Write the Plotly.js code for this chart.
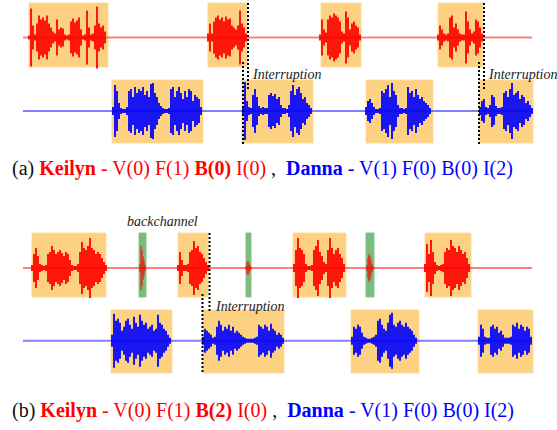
<!DOCTYPE html>
<html><head><meta charset="utf-8">
<script src="https://cdn.plot.ly/plotly-3.0.1.min.js"></script>
<style>html,body{margin:0;padding:0;background:#fff}#chart{width:557px;height:430px}</style>
</head><body><div id="chart"></div>
<script>
// ---------- timeline data (x = time units, rows by baseline) ----------
const rowBaselines = { aKeilyn: 37.5, aDanna: 111, bKeilyn: 268, bDanna: 340.7 };
const lineStart = 23, lineEnd = 532;

// Speech boxes (turn spans) per row
const aKeilynBoxes = [[29,108],[208,247],[321,361],[438,483]];
const aDannaBoxes  = [[112,203],[242,313],[366,433],[479,533]];
const bKeilynBoxes = [[32,106],[178,208],[293,346],[425,471]];
const bKeilynBackchannels = [[139,146],[246,251],[366,374]];
const bDannaBoxes  = [[111,172],[203,284],[351,419],[478,533]];
const rowBoxHeights = { aKeilyn: [3,67], aDanna: [80,143], bKeilyn: [233,297], bDanna: [310,373] };

// Waveform spans and amplitude envelopes
const aKeilynSpans = [[29,105],[208,246],[320,360],[438,482]];
const aKeilynAmps = [
  [2,29,12,3,14,22,18,20,17,22,14,10,6,4,18,8,10,9,3,2,3,16,19,15,17,20,8,2,3,27,10,3,4,12,31,14,10,12,6],
  [4,14,4,16,20,22,18,20,16,21,18,19,12,10,8,12,27,14,10,4],
  [3,18,8,5,18,22,20,24,22,20,16,6,4,26,20,8,14,16,12,10,3],
  [3,12,8,4,3,4,20,22,10,14,8,4,3,3,26,16,8,4,6,18,16,10,4]
];
const aDannaSpans = [[113,201],[243,311],[366,430],[480,532]];
const aDannaAmps = [
  [4,26,20,8,3,2,2,4,20,22,14,24,18,22,20,24,16,20,14,27,28,18,14,8,5,3,2,2,3,22,24,14,20,24,18,12,20,14,22,20,10,16,14,12,4],
  [4,29,10,4,3,16,22,14,5,3,4,3,3,16,18,15,17,12,14,6,3,3,2,6,20,26,16,22,24,18,12,14,8,6,3],
  [4,10,12,8,4,2,2,3,20,18,22,26,14,28,20,16,6,3,3,2,3,24,18,20,14,22,16,12,14,10,8,6,3],
  [4,10,12,4,3,6,16,14,5,3,3,4,18,20,14,22,28,16,18,20,12,16,14,8,10,6,3]
];
const bKeilynSpans = [[32,106],[140,145],[178,208],[246,251],[294,344],[367,373],[425,469]];
const bKeilynAmps = [
  [3,14,20,12,4,3,2,3,14,16,22,18,14,16,18,15,12,16,14,8,3,2,2,4,16,26,20,18,22,30,20,18,14,16,14,10,6,3],
  [4,22,18,12,8,3],
  [3,16,8,3,3,4,16,18,27,20,22,16,14,10,6,3],
  [2,6,7,5,3,1],
  [4,18,30,20,18,14,4,2,2,3,18,22,28,16,12,6,4,18,30,20,14,18,20,14,10,4],
  [3,10,14,12,8,4,2],
  [4,24,14,28,16,6,3,2,3,4,16,20,18,28,22,20,16,22,18,14,16,10,4]
];
const bDannaSpans = [[112,170],[203,283],[352,416],[479,531]];
const bDannaAmps = [
  [6,27,20,22,18,10,14,20,22,16,12,24,18,14,26,20,16,18,12,14,16,10,12,26,18,16,12,10,6,3],
  [4,12,10,8,6,3,4,14,20,16,10,14,12,16,10,14,8,10,8,6,4,3,2,2,2,2,3,4,16,14,12,16,14,10,17,12,10,6,8,6,3],
  [4,14,12,16,14,8,4,3,2,2,3,4,6,20,22,16,12,10,18,26,28,16,14,18,20,16,14,18,14,12,10,6,3],
  [4,16,12,4,3,3,14,16,12,14,8,10,6,3,3,3,4,16,14,18,12,16,14,10,14,12,4]
];

// Interruption markers: [x, yTop, yBottom]
const dottedMarkers = [[248,3,90],[243,62,145],[484,3,90],[479,62,146],[209.5,233,313],[202.5,294,373]];

// Text labels
const interruptionLabels = [[250,74],[485.5,74],[213,306]];
const backchannelLabel = [125,221.5];
const captionA = "(a) <span style='color:#f00'><b>Keilyn</b> - V(0) F(1) <b>B(0)</b> I(0)</span> ,&nbsp; <span style='color:#00f'><b>Danna</b> - V(1) F(0) B(0) I(2)</span>";
const captionB = "(b) <span style='color:#f00'><b>Keilyn</b> - V(0) F(1) <b>B(2)</b> I(0)</span> ,&nbsp; <span style='color:#00f'><b>Danna</b> - V(1) F(0) B(0) I(2)</span>";
const captionPos = [[9.5,168],[9.5,410]];

// ---------- build ----------
const traces = [];
const shapes = [];
const RED = '#ff0000', BLUE = '#0000ff';

function addBoxes(boxes, hy, color, line) {
  boxes.forEach(b => shapes.push({type:'rect', xref:'x', yref:'y', x0:b[0], x1:b[1], y0:hy[0], y1:hy[1],
    fillcolor: color, line:{color: line, width:1}, layer:'below'}));
}
addBoxes(aKeilynBoxes, rowBoxHeights.aKeilyn, '#fdd182', '#fddaa0');
addBoxes(aDannaBoxes, rowBoxHeights.aDanna, '#fdd182', '#fddaa0');
addBoxes(bKeilynBoxes, rowBoxHeights.bKeilyn, '#fdd182', '#fddaa0');
addBoxes(bDannaBoxes, rowBoxHeights.bDanna, '#fdd182', '#fddaa0');
addBoxes(bKeilynBackchannels, rowBoxHeights.bKeilyn, '#7bbb7b', '#86c286');

function addBaseline(y, color) {
  traces.push({type:'scatter', x:[lineStart,lineEnd], y:[y,y], mode:'lines', line:{color:color, width:2}, hoverinfo:'skip'});
}
addBaseline(rowBaselines.aKeilyn, 'rgba(255,0,0,0.5)');
addBaseline(rowBaselines.aDanna, 'rgba(0,0,255,0.5)');
addBaseline(rowBaselines.bKeilyn, 'rgba(255,0,0,0.5)');
addBaseline(rowBaselines.bDanna, 'rgba(0,0,255,0.5)');

// Each amplitude sample drawn as a symmetric vertical bar around the row baseline
function addWaves(spans, amps, base, color) {
  const xs = [], ys = [], bs = [], ws = [];
  spans.forEach((s, k) => {
    const a = amps[k], n = a.length, step = (s[1]-s[0])/(n-1);
    a.forEach((v, i) => {
      xs.push(s[0] + step*i); bs.push(base - v); ys.push(2*v); ws.push(step*0.9);
    });
  });
  traces.push({type:'bar', x:xs, y:ys, base:bs, width:ws, marker:{color:color, line:{width:0}}, hoverinfo:'skip'});
}
addWaves(aKeilynSpans, aKeilynAmps, rowBaselines.aKeilyn, RED);
addWaves(aDannaSpans, aDannaAmps, rowBaselines.aDanna, BLUE);
addWaves(bKeilynSpans, bKeilynAmps, rowBaselines.bKeilyn, RED);
addWaves(bDannaSpans, bDannaAmps, rowBaselines.bDanna, BLUE);

dottedMarkers.forEach(m => traces.push({type:'scatter', x:[m[0],m[0]], y:[m[1],m[2]], mode:'lines',
  line:{color:'#000', width:2, dash:'2px,2px'}, hoverinfo:'skip'}));

const serif = 'Liberation Serif, Times New Roman, serif';
const annotations = [];
interruptionLabels.forEach(p => annotations.push({x:p[0], y:p[1], xref:'x', yref:'y', text:'<i>Interruption</i>',
  showarrow:false, xanchor:'left', yanchor:'middle', font:{family:serif, size:14, color:'#222'}}));
annotations.push({x:backchannelLabel[0], y:backchannelLabel[1], xref:'x', yref:'y', text:'<i>backchannel</i>',
  showarrow:false, xanchor:'left', yanchor:'middle', font:{family:serif, size:14, color:'#222'}});
[captionA, captionB].forEach((t, i) => annotations.push({x:captionPos[i][0], y:captionPos[i][1], xref:'x', yref:'y',
  text:t, showarrow:false, xanchor:'left', yanchor:'middle', font:{family:serif, size:20, color:'#111'}}));

const layout = {
  width:557, height:430, margin:{l:0,r:0,t:0,b:0}, showlegend:false, barmode:'overlay',
  paper_bgcolor:'#fff', plot_bgcolor:'#fff',
  xaxis:{range:[0,557], visible:false, fixedrange:true},
  yaxis:{range:[430,0], visible:false, fixedrange:true},
  shapes:shapes, annotations:annotations
};
Plotly.newPlot('chart', traces, layout, {staticPlot:true, displayModeBar:false});
</script></body></html>
